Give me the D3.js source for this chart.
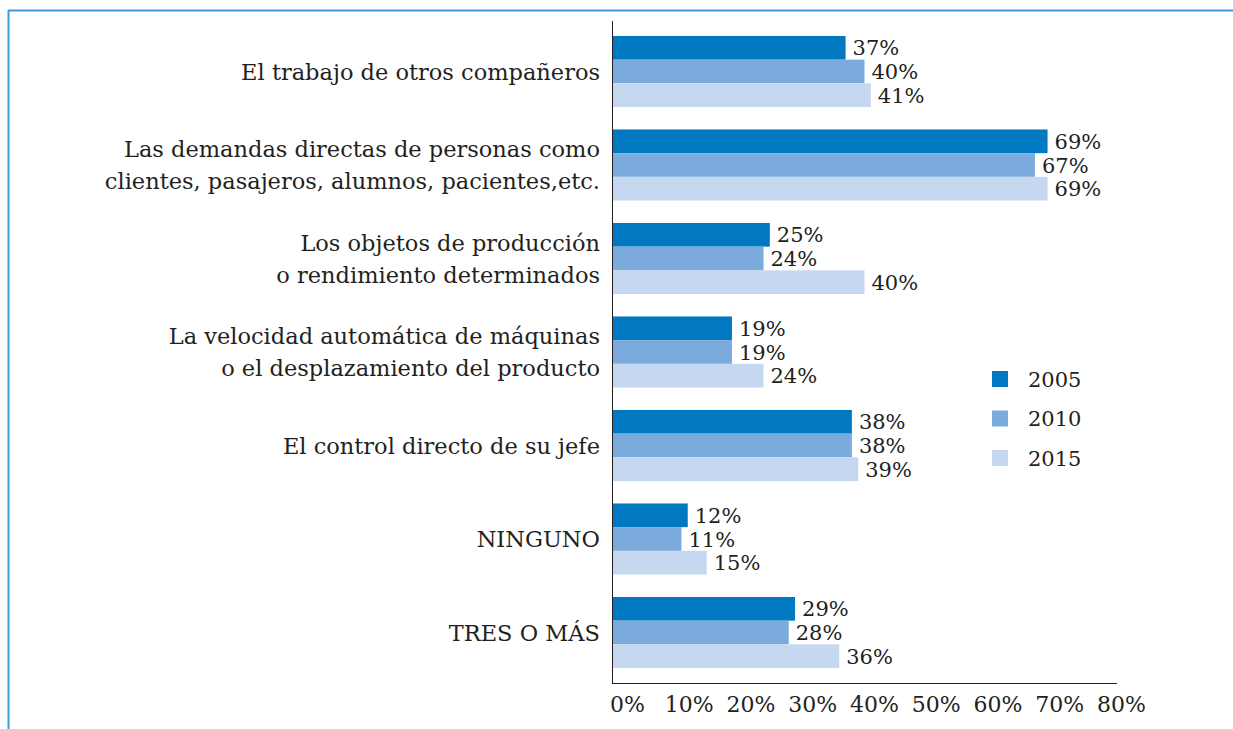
<!DOCTYPE html>
<html>
<head>
<meta charset="utf-8">
<script src="https://cdn.jsdelivr.net/npm/d3@7"></script>
<style>
  body { margin: 0; background: #fff; }
  text { font-family: "DejaVu Serif", serif; fill: #231f20; }
</style>
</head>
<body>
<svg id="chart" width="1233" height="729"></svg>
<script>
// --- Data ---
var categories = [
  ["El trabajo de otros compañeros"],
  ["Las demandas directas de personas como", "clientes, pasajeros, alumnos, pacientes,etc."],
  ["Los objetos de producción", "o rendimiento determinados"],
  ["La velocidad automática de máquinas", "o el desplazamiento del producto"],
  ["El control directo de su jefe"],
  ["NINGUNO"],
  ["TRES O MÁS"]
];
var years = ["2005", "2010", "2015"];
var values2005 = [37, 69, 25, 19, 38, 12, 29];
var values2010 = [40, 67, 24, 19, 38, 11, 28];
var values2015 = [41, 69, 40, 24, 39, 15, 36];
var tickValues = [0, 10, 20, 30, 40, 50, 60, 70, 80];

var colors = ["#0079c1", "#7aabdc", "#c6d8ef"];

// --- Setup ---
var svg = d3.select("#chart");
var plotLeft = 612, plotRight = 1117, plotTop = 21, plotBottom = 683;
var valueFont = 21;
var catFont = 22.5;

// frame
svg.append("line").attr("x1", 8).attr("x2", 1233).attr("y1", 10.5).attr("y2", 10.5)
  .attr("stroke", "#3f9ad8").attr("stroke-width", 2);
svg.append("line").attr("x1", 8.5).attr("x2", 8.5).attr("y1", 10).attr("y2", 729)
  .attr("stroke", "#3f9ad8").attr("stroke-width", 2);

var x = d3.scaleLinear().domain([0, 80]).range([plotLeft, plotRight]);
// tick labels in the original sit a bit right of the ticks
var xLabel = d3.scaleLinear().domain([0, 80]).range([627, 1121]);

var y = d3.scaleBand()
  .domain(d3.range(categories.length))
  .range([plotTop, plotBottom])
  .paddingInner(0.24)
  .paddingOuter(0.16);

var ySub = d3.scaleBand().domain(years).range([0, y.bandwidth()]);

var rows = categories.map(function(c, i) {
  return {
    label: c,
    vals: [values2005[i], values2010[i], values2015[i]]
  };
});

// --- Bars ---
var group = svg.selectAll("g.cat")
  .data(rows)
  .enter()
    .append("g")
    .attr("class", "cat")
    .attr("transform", function(d, i) { return "translate(0," + y(i) + ")"; });

group.selectAll("rect")
  .data(function(d) { return d.vals; })
  .enter()
    .append("rect")
    .attr("x", x(0))
    .attr("y", function(d, j) { return ySub(years[j]); })
    .attr("width", function(d) { return x(d) - x(0); })
    .attr("height", ySub.bandwidth())
    .attr("fill", function(d, j) { return colors[j]; });

group.selectAll("text.val")
  .data(function(d) { return d.vals; })
  .enter()
    .append("text")
    .attr("class", "val")
    .attr("x", function(d) { return x(d) + 7; })
    .attr("y", function(d, j) { return ySub(years[j]) + ySub.bandwidth() / 2; })
    .attr("dy", "0.36em")
    .attr("font-size", valueFont)
    .text(function(d) { return d + "%"; });

// category labels
group.append("text")
  .attr("class", "cat-label")
  .attr("text-anchor", "end")
  .attr("font-size", catFont)
  .attr("x", 600)
  .attr("y", y.bandwidth() / 2)
  .each(function(d) {
    var t = d3.select(this);
    var n = d.label.length;
    d.label.forEach(function(line, k) {
      t.append("tspan")
        .attr("x", 600)
        .attr("dy", k == 0 ? (0.36 * catFont - (n - 1) * 16) : 32)
        .text(line);
    });
  });

// --- Axes ---
svg.append("line").attr("x1", plotLeft + 0.5).attr("x2", plotLeft + 0.5)
  .attr("y1", plotTop).attr("y2", plotBottom + 0.5)
  .attr("stroke", "#231f20").attr("stroke-width", 1);

var xAxis = d3.axisBottom(xLabel)
  .tickValues(tickValues)
  .tickSize(0)
  .tickPadding(0)
  .tickFormat(function(d) { return d + "%"; });

var ax = svg.append("g")
  .attr("transform", "translate(0," + plotBottom + ")")
  .call(xAxis);
ax.select(".domain").remove();
ax.append("line").attr("x1", plotLeft).attr("x2", plotRight).attr("y1", 0.5).attr("y2", 0.5)
  .attr("stroke", "#231f20");
ax.selectAll("text")
  .attr("y", 29)
  .attr("dy", 0)
  .attr("font-size", 22)
  .attr("font-family", "DejaVu Serif, serif")
  .attr("fill", "#231f20");

// --- Legend ---
var legend = svg.selectAll("g.legend")
  .data(years)
  .enter()
    .append("g")
    .attr("class", "legend")
    .attr("transform", function(d, i) { return "translate(992," + (371 + i * 39.5) + ")"; });

legend.append("rect")
  .attr("width", 16).attr("height", 16)
  .attr("fill", function(d, i) { return colors[i]; });

legend.append("text")
  .attr("x", 36).attr("y", 8).attr("dy", "0.36em")
  .attr("font-size", 21)
  .text(function(d) { return d; });
</script>
</body>
</html>
